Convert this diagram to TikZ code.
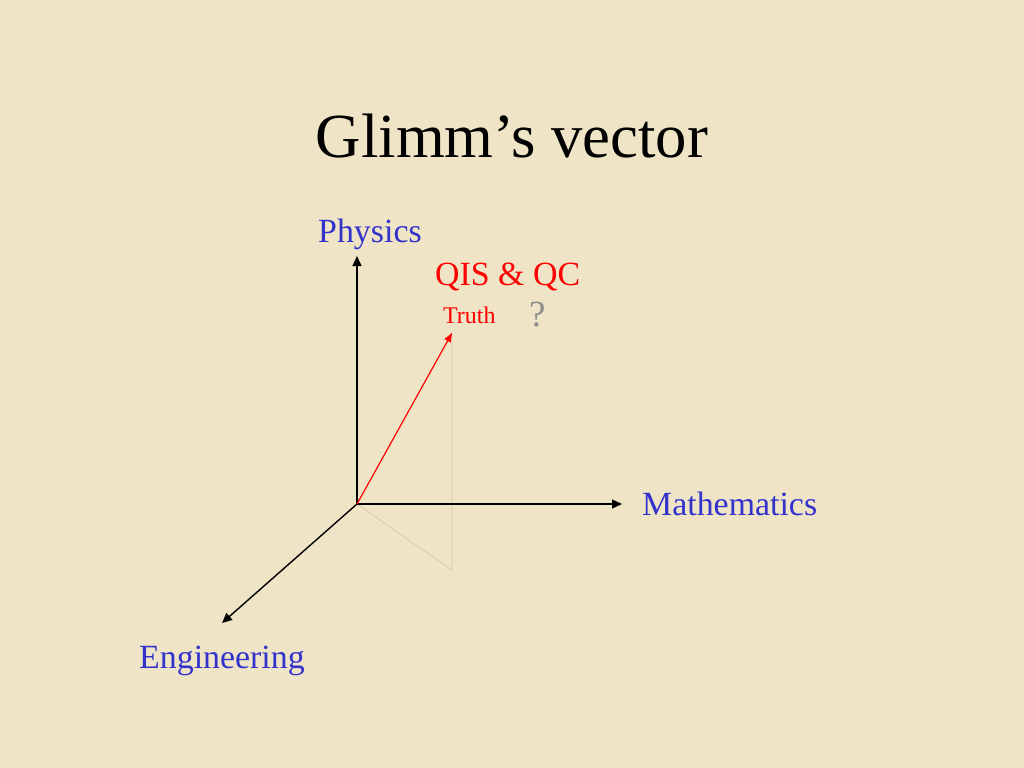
\documentclass[tikz,border=0pt]{standalone}
\usepackage{fontspec}
\setmainfont{Liberation Serif}
\usetikzlibrary{arrows.meta}
\definecolor{bg}{HTML}{EFE4C6}
\definecolor{lblue}{HTML}{3333CC}
\definecolor{faint}{HTML}{D6CBAE}
\definecolor{qgray}{HTML}{8C8C8C}
\tikzset{
  lbl/.style={anchor=base west, inner sep=0pt, font=\fontsize{34}{40}\selectfont, text=lblue},
  axis/.style={line width=1.4bp, -{Triangle[length=10bp,width=9bp]}},
  vec/.style={line width=1.2bp, red, -{Triangle[length=9bp,width=7bp]}},
  proj/.style={line width=0.8bp, faint}
}
\begin{document}
\begin{tikzpicture}[x=1bp,y=-1bp]
\fill[bg] (0,0) rectangle (1024,768);
\useasboundingbox (0,0) rectangle (1024,768);
\node[anchor=base, inner sep=0pt, font=\fontsize{63}{70}\selectfont] (title) at (512,157) {Glimm’s vector};
\coordinate (o) at (357,504);
\coordinate (py) at (357,256);
\coordinate (mx) at (622,504);
\coordinate (en) at (222,623);
\coordinate (t) at (452,333);
\coordinate (tb) at (452,570);
\draw[proj] (o) -- (tb) -- (t);
\draw[axis] (o) -- (py);
\draw[axis] (o) -- (mx);
\draw[axis] (o) -- (en);
\draw[vec] (o) -- (t);
\node[lbl] (phys) at (318,242) {Physics};
\node[lbl] (math) at (642,515) {Mathematics};
\node[lbl] (eng) at (139,668) {Engineering};
\node[lbl, text=red] (qis) at (435,285) {QIS \& QC};
\node[lbl, text=red, font=\fontsize{24}{28}\selectfont] (truth) at (443,323) {Truth};
\node[lbl, text=qgray, font=\fontsize{37}{42}\selectfont] (q) at (529,326) {?};
\end{tikzpicture}
\end{document}
